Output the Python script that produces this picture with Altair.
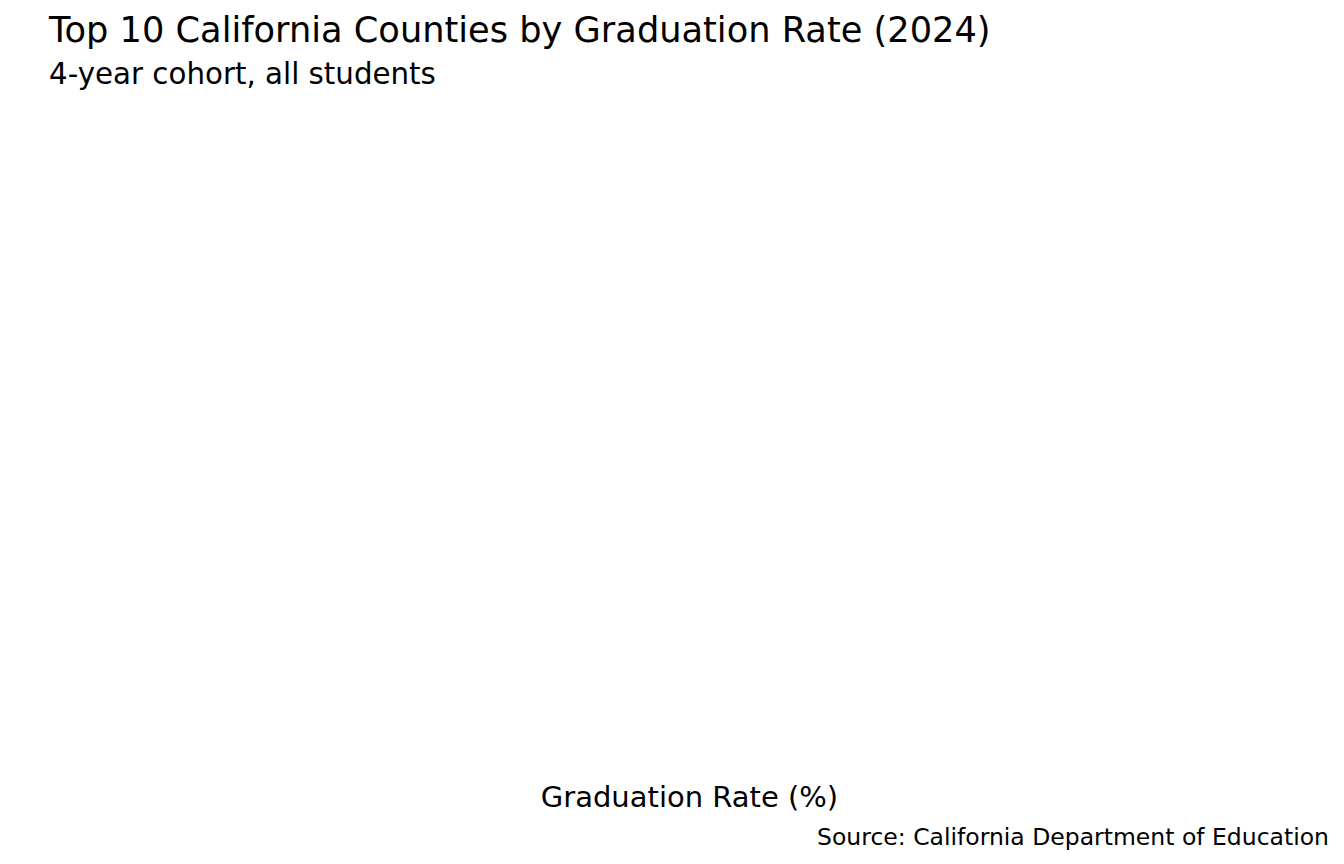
import altair as alt
import pandas as pd

# The reference chart has no bars drawn: the county/rate series are empty.
counties = []
rates = []

title_text = "Top 10 California Counties by Graduation Rate (2024)"
subtitle_text = "4-year cohort, all students"
x_title = "Graduation Rate (%)"
caption_text = "Source: California Department of Education"

df = pd.DataFrame({"county": pd.Series(counties, dtype="object"),
                   "rate": pd.Series(rates, dtype="float")})
cap_df = pd.DataFrame({"caption": [caption_text]})

W, H = 1280, 670
FONT = "DejaVu Sans"

bars = alt.Chart(df).mark_bar(color="#4C72B0").encode(
    x=alt.X("rate:Q", title=x_title,
            axis=alt.Axis(labels=False, ticks=False, domain=False, grid=False,
                          titleFont=FONT, titleFontSize=29, titleFontWeight="normal",
                          titleColor="black", titlePadding=13)),
    y=alt.Y("county:N", axis=None, sort="-x"),
)

caption = alt.Chart(cap_df).mark_text(
    align="right", baseline="alphabetic", font=FONT, fontSize=23.5, color="black"
).encode(
    x=alt.value(W), y=alt.value(H + 75), text="caption:N"
)

chart = alt.layer(bars, caption).properties(
    width=W, height=H,
    view=alt.ViewBackground(stroke="transparent", strokeWidth=0),
    title=alt.TitleParams(
        text=title_text, subtitle=subtitle_text, anchor="start", frame="group",
        font=FONT, fontSize=35.2, fontWeight="normal", color="black",
        subtitleFont=FONT, subtitleFontSize=29.3, subtitleColor="black",
        subtitlePadding=12, offset=10,
    ),
    autosize=alt.AutoSizeParams(type="none"),
    padding={"left": 41, "top": 92, "right": 0, "bottom": 90},
).configure_view(stroke="transparent", strokeWidth=0).configure(
    background="white", style={"cell": {"stroke": "transparent", "strokeWidth": 0}}
)

chart.save("out.html", embed_options={"renderer": "svg", "actions": False})
